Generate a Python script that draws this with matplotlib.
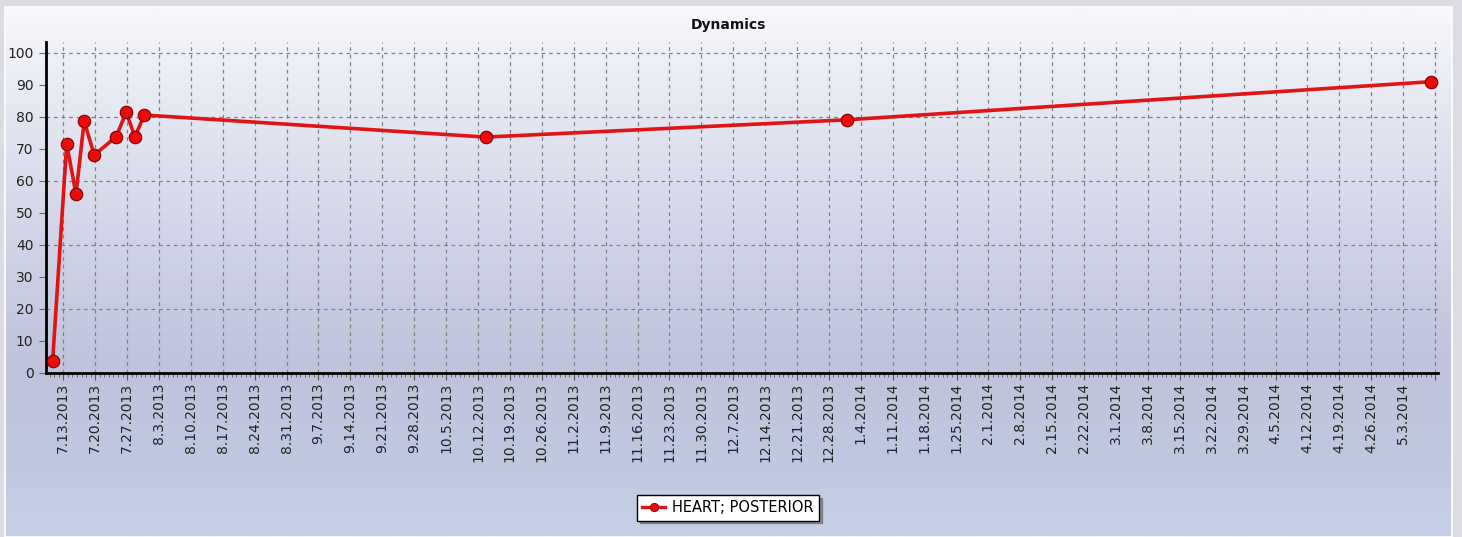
import datetime as dt
import numpy as np
import matplotlib
matplotlib.use("Agg")
import matplotlib.pyplot as plt
import matplotlib.dates as mdates
from matplotlib.ticker import MultipleLocator, FuncFormatter
from matplotlib.lines import Line2D
from matplotlib.patches import Rectangle

# data
dates = [
    "2013-07-10 16:00", "2013-07-13 18:00", "2013-07-15 19:00", "2013-07-17 14:00",
    "2013-07-19 19:00", "2013-07-24 15:00", "2013-07-26 19:00", "2013-07-28 17:00",
    "2013-07-30 19:00", "2013-10-13 17:00", "2013-12-31 22:00", "2014-05-09 02:00",
]
values = [3.75, 71.5, 55.8, 78.6, 68.0, 73.75, 81.4, 73.75, 80.5, 73.6, 79.0, 90.9]
series_name = "HEART; POSTERIOR"
title = "Dynamics"

x = [dt.datetime.strptime(d, "%Y-%m-%d %H:%M") for d in dates]
last_label = dt.datetime(2014, 5, 3)

W, H = 1462, 537
fig = plt.figure(figsize=(W / 100, H / 100), dpi=100)
fig.patch.set_facecolor("#dcdce4")

# gradient panel behind the chart
bg = fig.add_axes([6 / W, 0, (1451 - 6) / W, (H - 8) / H])
bg.set_axis_off()
stops_y = [0.0, 0.17, 0.45, 0.68, 0.85, 1.0]
stops_c = ["#f7f8fc", "#e7e9f3", "#d0d3e6", "#bfc3dc", "#c0c8e0", "#c5d0e7"]
rgb = np.array([matplotlib.colors.to_rgb(c) for c in stops_c])
t = np.linspace(0, 1, 400)
grad = np.stack([np.interp(t, stops_y, rgb[:, i]) for i in range(3)], axis=1)
bg.imshow(grad[:, None, :], aspect="auto", extent=[0, 1, 0, 1], origin="upper")
bg.set_xlim(0, 1)
bg.set_ylim(0, 1)
fig.add_artist(Rectangle((5 / W, 0), (1452 - 5) / W, (H - 7) / H, transform=fig.transFigure,
                         fill=False, edgecolor="white", lw=1.2))

ax = fig.add_axes([46 / W, 1 - 372.7 / H, (1438.3 - 46) / W, (372.7 - 41.7) / H])
ax.set_facecolor("none")

ax.plot(x, values, color="#e01414", lw=2.6, marker="o", markersize=9,
        markerfacecolor="#ee0a0a", markeredgecolor="#7a0000", markeredgewidth=0.8,
        solid_joinstyle="round", zorder=3)

ax.set_xlim(dt.datetime(2013, 7, 9, 5), dt.datetime(2014, 5, 10, 17))
ax.set_ylim(0, 103.4)


def date_label(v, pos):
    d = mdates.num2date(v).replace(tzinfo=None)
    if d > last_label + dt.timedelta(days=1):
        return ""
    return f"{d.month}.{d.day}.{d.year}"


ax.xaxis.set_major_locator(mdates.WeekdayLocator(byweekday=mdates.SA))
ax.xaxis.set_minor_locator(mdates.DayLocator())
ax.xaxis.set_major_formatter(FuncFormatter(date_label))

ax.yaxis.set_major_locator(MultipleLocator(20))
ax.yaxis.set_minor_locator(MultipleLocator(10))
ax.yaxis.set_minor_formatter(FuncFormatter(lambda v, p: f"{v:.0f}"))

ax.grid(which="major", color="#808080", ls=(0, (3, 3)), lw=0.9)

for s in ["top", "right"]:
    ax.spines[s].set_visible(False)
for s in ["left", "bottom"]:
    ax.spines[s].set_linewidth(2)
    ax.spines[s].set_color("black")

ax.tick_params(axis="x", which="major", length=5, width=0.8, color="#555555", pad=2,
               labelsize=10, labelcolor="#222222", labelrotation=90)
ax.tick_params(axis="x", which="minor", length=3, width=0.6, color="#555555")
ax.tick_params(axis="y", which="both", length=5, width=0.8, color="#666666", pad=4,
               labelsize=10, labelcolor="#222222")

fig.text(728 / W, 1 - 25 / H, title, ha="center", va="center",
         fontsize=10, fontweight="bold", color="#111111")

handle = Line2D([], [], color="#e01414", lw=2.4, marker="o", markersize=6,
                markerfacecolor="#ee0a0a", markeredgecolor="#7a0000", markeredgewidth=0.6)
leg = fig.legend([handle], [series_name], loc="center", bbox_to_anchor=(728 / W, 1 - 508 / H),
                 fontsize=10.5, frameon=True, fancybox=False, shadow=True, framealpha=1,
                 facecolor="white", edgecolor="black", handlelength=1.6, borderpad=0.35,
                 handletextpad=0.5)
leg.get_frame().set_linewidth(1)

fig.savefig("out.png", dpi=100)
